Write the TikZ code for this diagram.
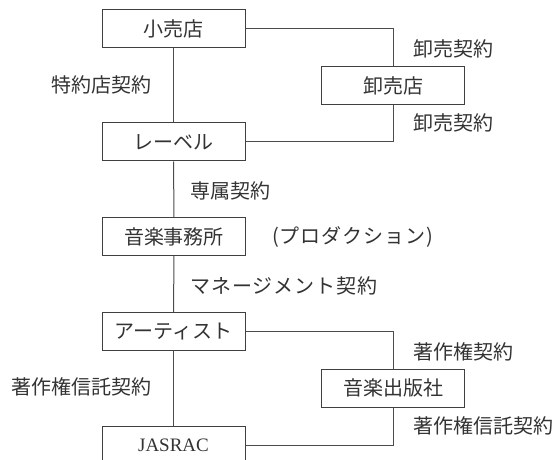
\documentclass[tikz,border=0pt]{standalone}
\usepackage{fontspec}
\setmainfont{Noto Sans CJK JP}
\newfontfamily\latinserif{Liberation Serif}
\newfontfamily\spacedjp[LetterSpace=5]{Noto Sans CJK JP}
\begin{document}
\begin{tikzpicture}[x=1pt,y=-1pt,
  every node/.style={font=\fontsize{20}{22}\selectfont, text=black!80, inner sep=0pt},
  box/.style={draw=black!75, line width=1pt, minimum width=143pt, minimum height=38pt},
  conn/.style={draw=black!70, line width=1pt},
  lbl/.style={anchor=west},
  spaced/.style={font=\spacedjp\fontsize{20}{22}\selectfont}]
\useasboundingbox (0,0) rectangle (558,460);
\fill[white] (0,0) rectangle (558,460);
\node[box] (kouri) at (173.5,28.5) {小売店};
\node[box] (label) at (173.5,142) {レーベル};
\node[box] (jimu) at (174,236.5) {音楽事務所};
\node[box] (artist) at (173.5,331.5) {アーティスト};
\node[box, font=\latinserif\fontsize{19}{22}\selectfont] (jasrac) at (173.5,445) {JASRAC};
\node[box] (oroshi) at (393,85.5) {卸売店};
\node[box] (shuppan) at (393,388) {音楽出版社};

\draw[conn] (kouri) -- (label);
\draw[conn] (label) -- (jimu);
\draw[conn] (jimu) -- (artist);
\draw[conn] (artist) -- (jasrac);
\draw[conn] (kouri.east) -| (oroshi.north);
\draw[conn] (label.east) -| (oroshi.south);
\draw[conn] (artist.east) -| (shuppan.north);
\draw[conn] (jasrac.east) -| (shuppan.south);

\node[lbl] (l1) at (413,49) {卸売契約};
\node[lbl] (l2) at (413,123) {卸売契約};
\node[anchor=east] (l3) at (152,85) {特約店契約};
\node[lbl] (l4) at (190,191) {専属契約};
\node[lbl, spaced] (l5) at (272,237) {(プロダクション)};
\node[lbl, spaced] (l6) at (190,286) {マネージメント契約};
\node[lbl] (l7) at (413,352) {著作権契約};
\node[lbl] (l8) at (413,426) {著作権信託契約};
\node[anchor=east] (l9) at (152,387) {著作権信託契約};
\end{tikzpicture}
\end{document}
